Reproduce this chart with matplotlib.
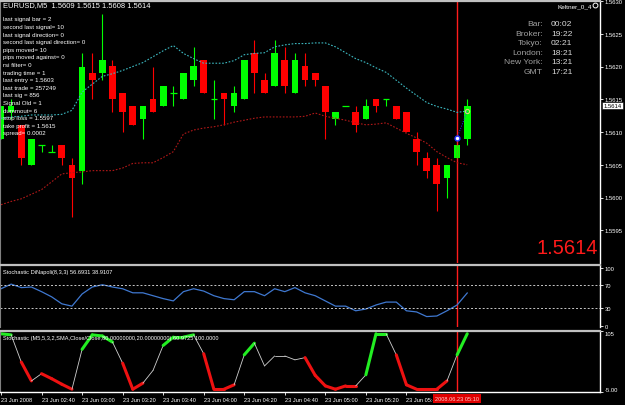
import matplotlib
matplotlib.use('Agg')
import matplotlib.pyplot as plt
import matplotlib.transforms as mtransforms

# EURUSD M5 bars, 23 Jun 2008 (one bar every 5 minutes)
opens = [1.5609, 1.5613, 1.5611, 1.5605, 1.5608, 1.5607, 1.5608, 1.5605, 1.5604, 1.5619,
         1.5619, 1.5620, 1.5616, 1.5614, 1.5612, 1.5615, 1.5614, 1.5616, 1.5615, 1.5618,
         1.5621, 1.5615, 1.5616, 1.5614, 1.5615, 1.5622, 1.5618, 1.5617, 1.5621, 1.5616,
         1.5620, 1.5619, 1.5617, 1.5612, 1.5614, 1.5613, 1.5612, 1.5615, 1.5615, 1.5614,
         1.5613, 1.5609, 1.5606, 1.5605, 1.5603, 1.5606, 1.5609]
highs = [1.5614, 1.5615, 1.5611, 1.5609, 1.5608, 1.5608, 1.5608, 1.5606, 1.5622, 1.5622,
         1.5628, 1.5621, 1.5616, 1.5614, 1.5614, 1.5620, 1.5617, 1.5617, 1.5619, 1.5623,
         1.5621, 1.5618, 1.5616, 1.5617, 1.5621, 1.5624, 1.5619, 1.5624, 1.5623, 1.5622,
         1.5622, 1.5619, 1.5617, 1.5613, 1.5614, 1.5614, 1.5615, 1.5615, 1.5615, 1.5614,
         1.5613, 1.5610, 1.5607, 1.5606, 1.5605, 1.5608, 1.5615]
lows = [1.5609, 1.5612, 1.5605, 1.5605, 1.5607, 1.5607, 1.5605, 1.5597, 1.5602, 1.5615,
        1.5618, 1.5613, 1.5610, 1.5611, 1.5609, 1.5613, 1.5614, 1.5614, 1.5615, 1.5617,
        1.5616, 1.5612, 1.5611, 1.5613, 1.5615, 1.5616, 1.5616, 1.5617, 1.5616, 1.5616,
        1.5617, 1.5617, 1.5609, 1.5611, 1.5614, 1.5610, 1.5612, 1.5613, 1.5614, 1.5612,
        1.5610, 1.5605, 1.5603, 1.5598, 1.5600, 1.5606, 1.5608]
closes = [1.5614, 1.5614, 1.5606, 1.5609, 1.5608, 1.5607, 1.5606, 1.5603, 1.5620, 1.5618,
          1.5621, 1.5615, 1.5613, 1.5611, 1.5614, 1.5613, 1.5617, 1.5616, 1.5619, 1.5620,
          1.5616, 1.5615, 1.5615, 1.5616, 1.5621, 1.5619, 1.5616, 1.5622, 1.5617, 1.5621,
          1.5618, 1.5618, 1.5613, 1.5613, 1.5614, 1.5611, 1.5614, 1.5614, 1.5615, 1.5612,
          1.5610, 1.5607, 1.5604, 1.5602, 1.5605, 1.5608, 1.5614]

# Keltner channel bands
kelt_upper = [1.56121, 1.56123, 1.56124, 1.56126, 1.56126, 1.56126, 1.56127, 1.56133, 1.56161, 1.56173,
              1.56185, 1.56189, 1.56194, 1.56200, 1.56206, 1.56215, 1.56224, 1.56232, 1.56220, 1.56212,
              1.56205, 1.56205, 1.56205, 1.56209, 1.56218, 1.56220, 1.56221, 1.56230, 1.56233, 1.56235,
              1.56235, 1.56236, 1.56236, 1.56230, 1.56221, 1.56212, 1.56206, 1.56198, 1.56191, 1.56179,
              1.56167, 1.56156, 1.56145, 1.56139, 1.56135, 1.56130, 1.56132]
kelt_lower = [1.55989, 1.55994, 1.55998, 1.56005, 1.56012, 1.56024, 1.56036, 1.56038, 1.56039, 1.56041,
              1.56041, 1.56041, 1.56045, 1.56052, 1.56053, 1.56053, 1.56061, 1.56070, 1.56097, 1.56103,
              1.56106, 1.56108, 1.56111, 1.56115, 1.56118, 1.56121, 1.56123, 1.56123, 1.56123, 1.56123,
              1.56124, 1.56129, 1.56124, 1.56121, 1.56118, 1.56114, 1.56111, 1.56112, 1.56114, 1.56106,
              1.56098, 1.56091, 1.56083, 1.56070, 1.56061, 1.56053, 1.56050]
signal_idx = [45, 46]
signal_price = [1.56091, 1.56132]

# Stochastic DiNapoli(8,3,3)
dinapoli = [64, 72, 66, 67, 59, 50, 38, 34, 55, 67, 71, 67, 64, 57, 57, 52, 47, 43, 59, 64,
            60, 52, 47, 45, 59, 59, 52, 64, 59, 66, 57, 52, 43, 34, 34, 26, 29, 36, 41, 41,
            26, 24, 16, 17, 26, 36, 56.7]

# Stochastic(5,3,2) and the colour of each segment (g up, r down, w neutral)
stoch = [100, 98, 49, 15, 28, 19, 9, 0, 72, 98, 96, 85, 47, 0, 11, 34, 79, 94, 94, 98,
         64, 0, 0, 8, 62, 83, 42, 60, 60, 53, 57, 25, 6, 0, 6, 6, 26, 100, 100, 62,
         8, 0, 0, 0, 15, 62, 100]
stoch_seg = list('gwrwrrrwgggwrrwwgggwrrrwgwwwwwrrrrrwggwrrrrrwg')

tick_idx = [0, 4, 8, 12, 16, 20, 24, 28, 32, 36, 40]
tick_labels = ['23 Jun 2008', '23 Jun 02:40', '23 Jun 03:00', '23 Jun 03:20', '23 Jun 03:40',
               '23 Jun 04:00', '23 Jun 04:20', '23 Jun 04:40', '23 Jun 05:00', '23 Jun 05:20',
               '23 Jun 05:40']
cursor_idx = 45

info_lines = ['last signal bar = 2', 'second last signal= 10', 'last signal direction= 0',
              'second last signal direction= 0', 'pips moved= 10', 'pips moved against= 0',
              'rsi filter= 0', 'trading time = 1', 'last entry = 1.5603', 'last trade = 257249',
              'last sig = 856', 'Signal Old = 1', 'dummout= 6', 'stop loss = 1.5597',
              'take profit = 1.5615', 'spread= 0.0002']
clock_names = ['Bar:', 'Broker:', 'Tokyo:', 'London:', 'New York:', 'GMT']
clock_times = ['00:02', '19:22', '02:21', '18:21', '13:21', '17:21']

W, H = 625, 406
ARIAL = ['Liberation Sans', 'DejaVu Sans']
SMALL = 4.2

fig = plt.figure(figsize=(W / 100, H / 100), dpi=100, facecolor='black')


def rect(top, bottom, left=0, right=600):
    """Axes rectangle from pixel coordinates."""
    return [left / W, 1 - bottom / H, (right - left) / W, (bottom - top) / H]


def px(x, y):
    return x / W, 1 - y / H


ax1 = fig.add_axes(rect(2, 264))
ax2 = fig.add_axes(rect(266, 328))
ax3 = fig.add_axes(rect(332, 393))

for ax in (ax1, ax2, ax3):
    ax.set_facecolor('black')
    ax.set_xlim(-0.1, 59.1)
    ax.yaxis.tick_right()
    ax.tick_params(axis='y', colors='white', length=2.5, width=0.6, pad=1, labelsize=SMALL)
    ax.spines['right'].set_color('white')
    ax.spines['right'].set_linewidth(1)
    ax.spines['left'].set_color('#808080')
    ax.spines['top'].set_color('#c0c0c0')
    ax.spines['top'].set_linewidth(1.6)
    ax.spines['bottom'].set_visible(False)
    ax.axvline(cursor_idx, color='#ff1c1c', lw=1.0)

ax1.tick_params(axis='x', bottom=False, labelbottom=False)
ax2.tick_params(axis='x', bottom=False, labelbottom=False)

# --- price window: candles
for i in range(len(opens)):
    o, h, l, c = opens[i], highs[i], lows[i], closes[i]
    color = '#ff0000' if c < o else '#00ff00'
    ax1.vlines(i, l, h, color=color, lw=0.8)
    if c == o:
        ax1.hlines(o, i - 0.33, i + 0.33, color=color, lw=0.9)
    else:
        ax1.bar(i, abs(c - o), bottom=min(o, c), width=0.66, color=color, lw=0)

idx = list(range(len(opens)))
ax1.plot(idx, kelt_upper, color='#3cb8c0', lw=0.8, ls=(0, (1.5, 1.5)))
ax1.plot(idx, kelt_lower, color='#b01818', lw=0.8, ls=(0, (1.5, 1.5)))
ax1.plot(signal_idx, signal_price, color='#2030ff', lw=0.7, ls=(0, (1, 1.5)))
ax1.plot(signal_idx[0], signal_price[0], 'o', ms=3.5, mfc='white', mec='#2030ff', mew=1)
ax1.plot(signal_idx[1], signal_price[1], 'o', ms=3, mfc='none', mec='#e0d080', mew=0.8)

price_ticks = [1.5595, 1.5600, 1.5605, 1.5610, 1.5615, 1.5620, 1.5625, 1.5630]
ax1.set_ylim(1.5590, 1.5630)
ax1.set_yticks(price_ticks)
ax1.set_yticklabels([f'{p:.4f}' for p in price_ticks], family=ARIAL)

# current price box on the price scale
blend1 = mtransforms.blended_transform_factory(ax1.transAxes, ax1.transData)
ax1.text(1.006, closes[-1], f'{closes[-1]:.4f}', transform=blend1, ha='left', va='center',
         fontsize=SMALL, color='black', family=ARIAL,
         bbox=dict(facecolor='white', edgecolor='black', pad=0.8, lw=0.4))

# --- stochastic DiNapoli window
ax2.plot(idx, dinapoli, color='#3f78d0', lw=0.9)
for lvl in (30, 70):
    ax2.axhline(lvl, color='#c8c8c8', lw=0.7, ls=(0, (2, 2)))
ax2.set_ylim(-2, 105)
ax2.set_yticks([0, 30, 70, 100])
ax2.set_yticklabels(['0', '30', '70', '100'], family=ARIAL)

# --- coloured stochastic window
seg_style = {'g': ('#22ee22', 2.2), 'r': ('#ee1111', 2.2), 'w': ('#d0d0d0', 0.6)}
for k, s in enumerate(stoch_seg):
    color, lw = seg_style[s]
    ax3.plot([k, k + 1], [stoch[k], stoch[k + 1]], color=color, lw=lw,
             solid_capstyle='round')
ax3.set_ylim(-5, 105)
ax3.set_yticks([-5, 105])
ax3.set_yticklabels(['-5.00', '105'], family=ARIAL)
ylabs = ax3.get_yticklabels()
ylabs[0].set_va('bottom')
ylabs[1].set_va('top')
ax3.spines['bottom'].set_visible(True)
ax3.spines['bottom'].set_color('white')
ax3.spines['bottom'].set_linewidth(1)

# time axis
ax3.set_xticks(tick_idx)
ax3.set_xticklabels(tick_labels, ha='left', fontsize=4.1, color='white', family=ARIAL)
ax3.tick_params(axis='x', colors='white', length=2, width=0.6, pad=1.5)
blend3 = mtransforms.blended_transform_factory(ax3.transData, ax3.transAxes)
ax3.text(cursor_idx, -0.07, '2008.06.23 05:10', transform=blend3, ha='center', va='top',
         fontsize=4.1, color='#ffd0d0', family=ARIAL, zorder=5,
         bbox=dict(facecolor='#e00000', edgecolor='none', pad=1.4))

# --- texts over the chart
fig.text(*px(3, 6), 'EURUSD,M5  1.5609 1.5615 1.5608 1.5614', fontsize=5.4, color='white',
         family=ARIAL, va='center')
for k, line in enumerate(info_lines):
    fig.text(*px(3, 20 + 7.6 * k), line, fontsize=4.4, color='white', family=ARIAL, va='center')

fig.text(*px(557, 7), 'Keltner_0_4', fontsize=4.6, color='white', family=ARIAL, va='center')
ax1.plot(0.992, 0.985, 'o', ms=3.5, mfc='none', mec='white', mew=0.7, transform=ax1.transAxes)

for k in range(len(clock_names)):
    y = 25 + 9.45 * k
    fig.text(*px(543, y), clock_names[k], fontsize=6.1, color='#a0a0a0', family=ARIAL,
             ha='right', va='center')
    fig.text(*px(551, y), clock_times[k], fontsize=6.1, color='#d8d8d8', family=ARIAL,
             ha='left', va='center')

fig.text(*px(598, 249), f'{closes[-1]:.4f}', fontsize=14.5, color='#ff1a1a', family=ARIAL,
         ha='right', va='center')
ax2.text(0.005, 0.93, 'Stochastic DiNapoli(8,3,3) 56.6931 38.9107', transform=ax2.transAxes,
         fontsize=4.1, color='white', family=ARIAL, va='top')
ax3.text(0.005, 0.93, 'Stochastic (M5,5,3,2,SMA,Close/Close,80.00000000,20.00000000) 60.9725 100.0000',
         transform=ax3.transAxes, fontsize=4.1, color='white', family=ARIAL, va='top')

fig.savefig('out.png', dpi=100, facecolor='black')
